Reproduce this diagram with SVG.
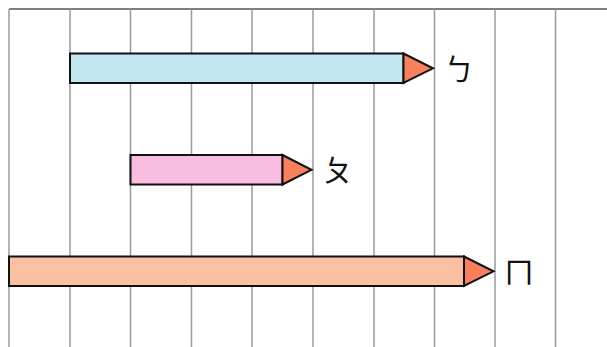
<svg xmlns="http://www.w3.org/2000/svg" width="607" height="347" viewBox="0 0 607 347">
<style>
.grid{stroke:#9a9a9a;stroke-width:1.5;fill:none}
.top{stroke:#555;stroke-width:1.5}
.bar{stroke:#111;stroke-width:2}
.tip{fill:#F8805F;stroke:#111;stroke-width:2;stroke-linejoin:miter}
.lbl{font-family:"Noto Sans CJK TC","Noto Sans CJK SC",sans-serif;font-size:30px;fill:#111;dominant-baseline:central}
</style>
<rect width="607" height="347" fill="#fff"/>
<g id="grid">
<line class="top" x1="9" y1="9" x2="607" y2="9"/>
<path class="grid" d="M9,9V347M70,9V347M130.5,9V347M191.5,9V347M252,9V347M313,9V347M374,9V347M434.5,9V347M495,9V347M555.5,9V347"/>
</g>
<g id="bar-b">
<rect class="bar" x="70" y="53.5" width="333.5" height="29.5" fill="#C2E6F0"/>
<polygon class="tip" points="403.5,53.5 433,68.3 403.5,83"/>
<text class="lbl" x="444" y="67">ㄅ</text>
</g>
<g id="bar-p">
<rect class="bar" x="130.5" y="155" width="152" height="29.5" fill="#F9BDE0"/>
<polygon class="tip" points="282.5,155 311.5,169.8 282.5,184.5"/>
<text class="lbl" x="323" y="168">ㄆ</text>
</g>
<g id="bar-m">
<rect class="bar" x="9" y="256.5" width="455" height="29.5" fill="#FBC0A2"/>
<polygon class="tip" points="464,256.5 493.5,271.3 464,286"/>
<text class="lbl" x="504" y="270">ㄇ</text>
</g>
<g id="connectors"/>
</svg>
